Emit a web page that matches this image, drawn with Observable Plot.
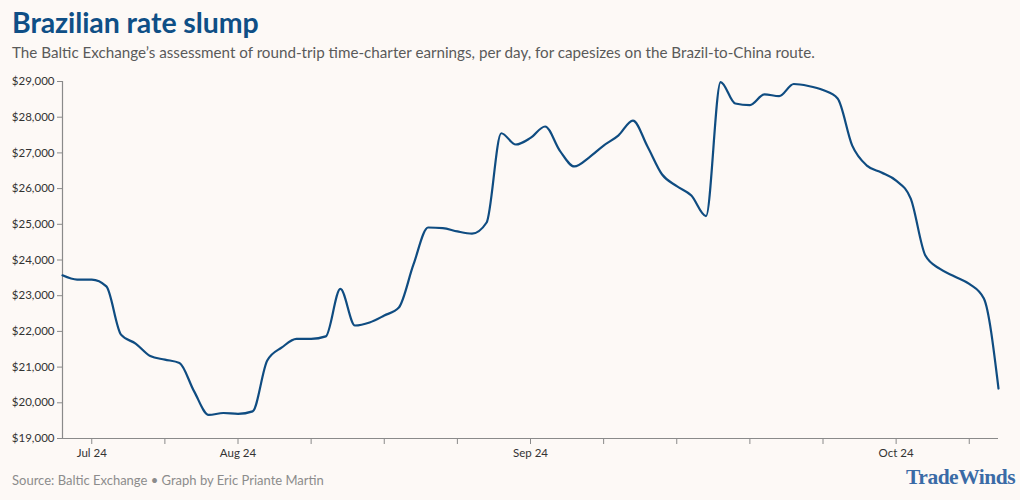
<!DOCTYPE html>
<html>
<head>
<meta charset="utf-8">
<script src="https://cdn.jsdelivr.net/npm/d3@7"></script>
<script src="https://cdn.jsdelivr.net/npm/@observablehq/plot@0.6"></script>
<style>
  html, body { margin: 0; padding: 0; background: #fdf9f6; }
  body { width: 1020px; height: 500px; position: relative; overflow: hidden; font-family: Lato, "Noto Sans", sans-serif; }
  #title { position: absolute; left: 12px; top: 5px; font-size: 28.5px; font-weight: 700; color: #0f4f86; line-height: 34px; letter-spacing: -0.1px; }
  #subtitle { position: absolute; left: 12px; top: 42px; font-size: 15.2px; color: #5a5a5a; line-height: 20px; }
  #chart { position: absolute; left: 0; top: 70px; }
  #source { position: absolute; left: 12px; top: 471px; font-size: 13px; color: #8c8c8c; line-height: 18px; }
  #logo { position: absolute; right: 5px; top: 464px; font-family: "Liberation Serif", "DejaVu Serif", serif; font-weight: 700; font-size: 21.5px; color: #3a6ba6; letter-spacing: -0.5px; line-height: 26px; }
</style>
</head>
<body>
<div id="title">Brazilian rate slump</div>
<div id="subtitle">The Baltic Exchange’s assessment of round-trip time-charter earnings, per day, for capesizes on the Brazil-to-China route.</div>
<div id="chart"></div>
<div id="source">Source: Baltic Exchange • Graph by Eric Priante Martin</div>
<div id="logo">TradeWinds</div>
<script>
// Daily assessment values (USD/day), in order of the trading days shown
const earnings = [
  23570, 23450, 23450, 23260, 21910, 21660, 21310, 21210, 21115, 20320,
  19660, 19715, 19690, 19760, 21185, 21550, 21790, 21790, 21860, 23190,
  22165, 22250, 22445, 22670, 23875, 24910, 24895, 24800, 24740, 25050,
  27550, 27235, 27420, 27740, 27065, 26620, 26870, 27205, 27485, 27905,
  27180, 26395, 26070, 25805, 25230, 28985, 28385, 28340, 28640, 28590,
  28930, 28875, 28760, 28525, 27205, 26645, 26450, 26225, 25720, 24125,
  23750, 23540, 23330, 22920, 20400
];
// x-axis ticks (positions by trading-day index) and their labels
const xTickIndex = [2, 7, 12, 17, 22, 27, 32, 37, 42, 47, 52, 57, 62];
const xTickLabels = ["Jul 24", "", "Aug 24", "", "", "", "Sep 24", "", "", "", "", "Oct 24", ""];
const yTicks = [19000, 20000, 21000, 22000, 23000, 24000, 25000, 26000, 27000, 28000, 29000];

const data = earnings.map((v, i) => ({i, v}));
const labelOf = new Map(xTickIndex.map((t, k) => [t, xTickLabels[k]]));
const fmt = d3.format(",");

const chart = Plot.plot({
  width: 1020,
  height: 395,
  marginLeft: 62,
  marginRight: 22,
  marginTop: 11,
  marginBottom: 27,
  style: {background: "transparent", fontFamily: "Lato, 'Noto Sans', sans-serif", fontSize: "12px", color: "#333"},
  x: {domain: [0, earnings.length - 1], axis: null},
  y: {domain: [19000, 29000], axis: null},
  marks: [
    Plot.axisY({ticks: yTicks, tickFormat: d => "$" + fmt(d), tickSize: 5, tickPadding: 3, stroke: "#8a8a8a", fill: "#333", fontSize: 11.5, label: null}),
    Plot.axisX({ticks: xTickIndex, tickFormat: d => labelOf.get(d) || "", tickSize: 6, tickPadding: 4, stroke: "#8a8a8a", fill: "#333", fontSize: 11.5, label: null}),
    Plot.ruleX([0], {stroke: "#8a8a8a", strokeWidth: 1.2}),
    Plot.ruleY([19000], {stroke: "#8a8a8a", strokeWidth: 1.2}),
    Plot.lineY(data, {x: "i", y: "v", curve: "monotone-x", stroke: "#0f4c81", strokeWidth: 2.2})
  ]
});
document.getElementById("chart").appendChild(chart);
</script>
</body>
</html>
